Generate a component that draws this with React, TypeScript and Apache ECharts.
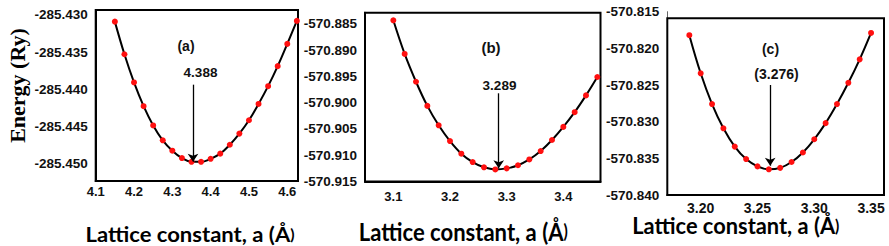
import React, { useEffect, useRef } from "react";
import * as echarts from "echarts";

const latticeA = [4.15, 4.175, 4.2, 4.225, 4.25, 4.275, 4.3, 4.325, 4.35, 4.375, 4.4, 4.425, 4.45, 4.475, 4.5, 4.525, 4.55, 4.575, 4.6, 4.625];
const energyA = [-285.4309, -285.4353, -285.4391, -285.4423, -285.4449, -285.4469, -285.4483, -285.4493, -285.4498, -285.4498, -285.4494, -285.4487, -285.4475, -285.446, -285.4442, -285.442, -285.4396, -285.4369, -285.4339, -285.4308];

const latticeB = [3.1, 3.12, 3.14, 3.16, 3.18, 3.2, 3.22, 3.24, 3.26, 3.28, 3.3, 3.32, 3.34, 3.36, 3.38, 3.4, 3.42, 3.44, 3.46];
const energyB = [-570.8843, -570.8907, -570.896, -570.9006, -570.9043, -570.9073, -570.9097, -570.9113, -570.9123, -570.9127, -570.9125, -570.9119, -570.9108, -570.9092, -570.9071, -570.9046, -570.9018, -570.8986, -570.8951];

const latticeC = [3.19, 3.2, 3.21, 3.22, 3.23, 3.24, 3.25, 3.26, 3.27, 3.28, 3.29, 3.3, 3.31, 3.32, 3.33, 3.34, 3.35];
const energyC = [-570.8182, -570.8234, -570.8276, -570.8309, -570.8334, -570.8351, -570.8361, -570.8365, -570.8363, -570.8355, -570.8342, -570.8324, -570.8302, -570.8276, -570.8247, -570.8215, -570.8179];

const xLabelsA = [4.1, 4.2, 4.3, 4.4, 4.5, 4.6];
const xTicksA = [4.1, 4.15, 4.2, 4.25, 4.3, 4.35, 4.4, 4.45, 4.5, 4.55, 4.6];
const yLabelsA = [-285.45, -285.445, -285.44, -285.435, -285.43];

const xLabelsB = [3.1, 3.2, 3.3, 3.4];
const yLabelsB = [-570.915, -570.91, -570.905, -570.9, -570.895, -570.89, -570.885];

const xLabelsC = [3.2, 3.25, 3.3, 3.35];
const xTicksC = [3.175, 3.2, 3.225, 3.25, 3.275, 3.3, 3.325, 3.35];
const yLabelsC = [-570.84, -570.835, -570.83, -570.825, -570.82, -570.815];

// axis ranges [xMin, xMax, yMin, yMax]; frame top (data units) for each panel
const rangeA = [4.1, 4.628, -285.45239, -285.42933];
const rangeB = [3.05, 3.4656, -570.915, -570.88285];
const rangeC = [3.1706, 3.3614, -570.84, -570.815];
const frameTop = [-285.42933, -570.88285, -570.8159];

const arrowA = [4.354, -285.4394, -285.4498];
const arrowB = [3.286, -570.8982, -570.9125];
const arrowC = [3.2612, -570.825, -570.836];
const panelLabels = ["(a)", "(b)", "(c)"];
const minimumLabels = ["4.388", "3.289", "(3.276)"];
const xTitle = "Lattice constant, a (Å";
const yTitle = "Energy (Ry)";

const GRIDS = [
  { left: 95.7, top: 10, width: 202.3, height: 171 },
  { left: 365, top: 12.7, width: 235.5, height: 168.8 },
  { left: 667.3, top: 11.7, width: 216.7, height: 183.3 },
];
const TICK_FONT = '"Liberation Sans", Arial, sans-serif';

function xAxisCfg(grid: number, r: number[], labels: number[], digits: number, size: number, margin: number) {
  return {
    type: "value",
    gridIndex: grid,
    position: "bottom",
    min: r[0],
    max: r[1],
    axisLine: { show: true, onZero: false, lineStyle: { color: "#000", width: 2 } },
    axisTick: { show: false },
    axisLabel: {
      show: true,
      customValues: labels,
      formatter: (v: number) => v.toFixed(digits),
      fontFamily: TICK_FONT,
      fontWeight: "bold",
      fontSize: size,
      color: "#111",
      margin,
    },
    splitLine: { show: false },
  };
}

function yAxisCfg(grid: number, r: number[], labels: number[], size: number, lineColor: string, lineWidth: number) {
  return {
    type: "value",
    gridIndex: grid,
    position: "left",
    min: r[2],
    max: r[3],
    axisLine: { show: true, onZero: false, lineStyle: { color: lineColor, width: lineWidth } },
    axisTick: { show: false },
    axisLabel: {
      show: true,
      customValues: labels,
      formatter: (v: number) => v.toFixed(3),
      fontFamily: TICK_FONT,
      fontWeight: "bold",
      fontSize: size,
      color: "#111",
      margin: 8,
    },
    splitLine: { show: false },
  };
}

function seg(a: number[], b: number[], color: string, width: number) {
  return [
    { coord: a, symbol: "none", lineStyle: { color, width, type: "solid" } },
    { coord: b, symbol: "none" },
  ];
}

function curveSeries(idx: number, xs: number[], ys: number[], arrow: number[], r: number[], xTicks: number[], yTicks: number[]) {
  const g = GRIDS[idx];
  const dyPerPx = (r[3] - r[2]) / g.height;
  const dxPerPx = (r[1] - r[0]) / g.width;
  const tickData: any[] = [];
  xTicks.forEach((v) => tickData.push(seg([v, r[2]], [v, r[2] - 4 * dyPerPx], "#333", 1.2)));
  yTicks.forEach((v) => tickData.push(seg([r[0], v], [r[0] - 5 * dxPerPx, v], "#222", 1.2)));
  return {
    type: "line",
    xAxisIndex: idx,
    yAxisIndex: idx,
    data: xs.map((x, i) => [x, ys[i]]),
    smooth: 0.4,
    clip: false,
    symbol: "circle",
    symbolSize: 6,
    showSymbol: true,
    itemStyle: { color: "#ff1010" },
    lineStyle: { color: "#000", width: 2 },
    z: 3,
    markLine: {
      silent: true,
      symbol: ["none", "arrow"],
      symbolSize: 8,
      label: { show: false },
      lineStyle: { color: "#000", width: 1.3, type: "solid" },
      data: [[{ coord: [arrow[0], arrow[1]] }, { coord: [arrow[0], arrow[2]] }], ...tickData],
    },
    markArea: {
      silent: true,
      itemStyle: { color: "rgba(0,0,0,0)", borderColor: "#000", borderWidth: 2 },
      label: { show: false },
      data: [[{ coord: [r[0], frameTop[idx]] }, { coord: [r[1], r[2]] }]],
    },
  };
}

function label(text: string, x: number, y: number, size: number) {
  return {
    type: "text",
    x,
    y,
    z: 10,
    style: {
      text,
      fill: "#111",
      font: `bold ${size}px ${TICK_FONT}`,
      align: "center",
      verticalAlign: "middle",
    },
  };
}

function title(x: number, y: number, sx: number, sy: number) {
  return {
    type: "text",
    x,
    y,
    scaleX: sx,
    scaleY: sy,
    z: 10,
    style: {
      text: xTitle + "{s|)}",
      rich: { s: { font: 'bold 15px "Lato", sans-serif', fill: "#000" } },
      fill: "#000",
      font: 'bold 21px "Lato", sans-serif',
      align: "center",
      verticalAlign: "middle",
    },
  };
}

export default function App() {
  const ref = useRef<HTMLDivElement>(null);
  useEffect(() => {
    if (!ref.current) return;
    const chart = echarts.init(ref.current, null, { renderer: "svg" });
    chart.setOption({
      animation: false,
      grid: GRIDS.map((g) => ({ ...g, show: false })),
      xAxis: [
        xAxisCfg(0, rangeA, xLabelsA, 1, 13, 4),
        xAxisCfg(1, rangeB, xLabelsB, 1, 13, 8),
        xAxisCfg(2, rangeC, xLabelsC, 2, 14, 6),
      ],
      yAxis: [
        yAxisCfg(0, rangeA, yLabelsA, 13.5, "#000", 2),
        yAxisCfg(1, rangeB, yLabelsB, 13.5, "#000", 2),
        yAxisCfg(2, rangeC, yLabelsC, 13.5, "#666", 1),
      ],
      series: [
        curveSeries(0, latticeA, energyA, arrowA, rangeA, xTicksA, yLabelsA),
        curveSeries(1, latticeB, energyB, arrowB, rangeB, xLabelsB, yLabelsB),
        curveSeries(2, latticeC, energyC, arrowC, rangeC, xTicksC, yLabelsC),
      ],
      graphic: [
        label(panelLabels[0], 186, 46, 14),
        label(minimumLabels[0], 200.5, 72.5, 13.5),
        label(panelLabels[1], 491, 47, 15),
        label(minimumLabels[1], 499.5, 85, 13.5),
        label(panelLabels[2], 770.5, 49, 14),
        label(minimumLabels[2], 776.5, 74, 14),
        title(190, 234, 1.05, 1.0),
        title(463.3, 231, 1.05, 1.2),
        title(735.8, 225.5, 1.04, 1.1),
        {
          type: "text",
          x: 17,
          y: 85.5,
          rotation: Math.PI / 2,
          z: 10,
          style: {
            text: yTitle,
            fill: "#000",
            font: 'bold 22px "Liberation Serif", "Times New Roman", serif',
            align: "center",
            verticalAlign: "middle",
          },
        },
      ],
    });
    return () => chart.dispose();
  }, []);
  return (
    <div
      ref={ref}
      style={{ position: "absolute", left: 0, top: 0, width: 889, height: 246, background: "#fff" }}
    />
  );
}
